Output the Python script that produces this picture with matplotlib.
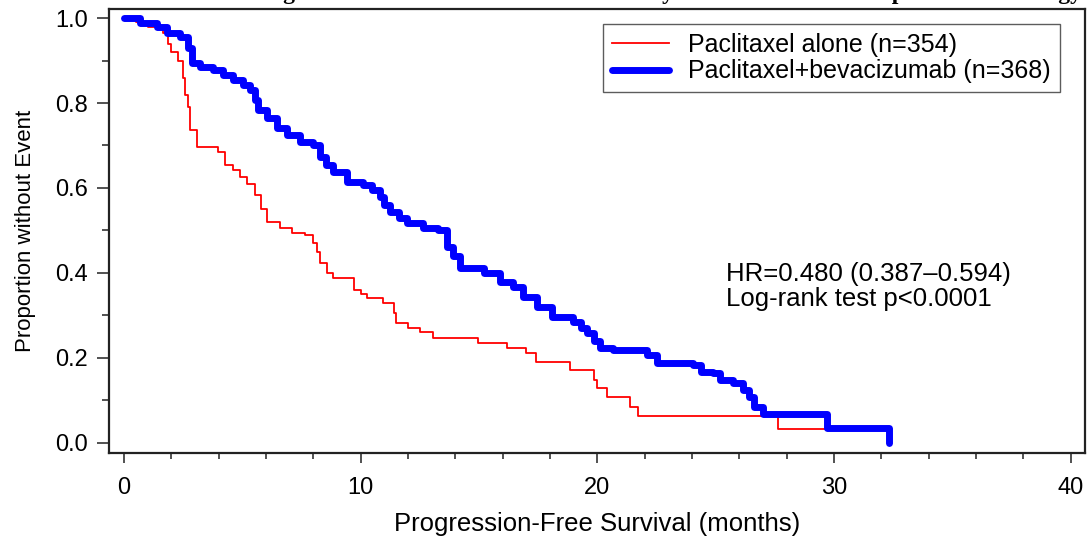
import numpy as np
import matplotlib
matplotlib.use("Agg")
import matplotlib.pyplot as plt
from matplotlib.ticker import MultipleLocator

plt.rcParams['font.family'] = ['Liberation Sans', 'DejaVu Sans']

# Kaplan-Meier steps (time in months, proportion after the step)
t_alone = [0, 0.5, 1.0, 1.65, 1.86, 2.0, 2.28, 2.5, 2.6, 2.7, 2.79, 3.08, 3.97, 4.27,
           4.6, 4.9, 5.2, 5.54, 5.8, 6.05, 6.6, 7.1, 7.65, 8.0, 8.15, 8.29, 8.6, 8.84,
           9.7, 10.0, 10.27, 10.95, 11.4, 11.5, 12.0, 12.5, 13.07, 14.97, 16.2, 17.0,
           17.4, 18.86, 19.84, 20.0, 20.4, 21.4, 21.7, 27.65, 29.6]
s_alone = [1.0, 0.99, 0.98, 0.965, 0.94, 0.92, 0.90, 0.86, 0.82, 0.79, 0.736, 0.697,
           0.685, 0.654, 0.642, 0.625, 0.61, 0.584, 0.55, 0.52, 0.506, 0.494, 0.489,
           0.47, 0.45, 0.424, 0.40, 0.388, 0.36, 0.35, 0.341, 0.329, 0.306, 0.282,
           0.27, 0.261, 0.247, 0.235, 0.223, 0.212, 0.19, 0.172, 0.148, 0.129, 0.108,
           0.085, 0.064, 0.033, 0.033]

t_combo = [0, 0.68, 1.4, 1.8, 2.37, 2.7, 2.87, 3.2, 3.77, 4.19, 4.6, 5.03, 5.33, 5.54,
           5.67, 6.05, 6.47, 6.89, 7.44, 8.0, 8.29, 8.55, 8.84, 9.43, 10.1, 10.5, 10.8,
           11.0, 11.25, 11.6, 11.97, 12.64, 13.28, 13.66, 13.9, 14.2, 15.2, 15.9, 16.45,
           16.87, 17.46, 18.1, 18.99, 19.3, 19.58, 19.85, 20.1, 20.68, 22.1, 22.54,
           24.06, 24.36, 24.9, 25.2, 25.75, 26.17, 26.4, 26.6, 27.0, 29.7, 32.3]
s_combo = [1.0, 0.988, 0.98, 0.965, 0.955, 0.93, 0.894, 0.885, 0.878, 0.866, 0.854,
           0.842, 0.83, 0.807, 0.784, 0.765, 0.741, 0.725, 0.708, 0.701, 0.673, 0.655,
           0.638, 0.614, 0.607, 0.595, 0.579, 0.56, 0.544, 0.53, 0.518, 0.506, 0.501,
           0.461, 0.44, 0.412, 0.40, 0.379, 0.367, 0.344, 0.32, 0.296, 0.285, 0.27,
           0.259, 0.24, 0.224, 0.219, 0.207, 0.188, 0.184, 0.167, 0.165, 0.148, 0.141,
           0.125, 0.108, 0.085, 0.068, 0.035, 0.0]

label_alone = 'Paclitaxel alone (n=354)'
label_combo = 'Paclitaxel+bevacizumab (n=368)'
stats_text = 'HR=0.480 (0.387\u20130.594)\nLog-rank test p<0.0001'
title = ('Kaplan-Meier Estimation of Progression-Free Survival Phase III Study E2100 '
         'Based on Independent Radiology Review')

fig = plt.figure(figsize=(10.9, 5.38), dpi=100)
ax = fig.add_axes([0.1, 0.158, 0.8954, 0.825])

ax.step(t_alone, s_alone, where='post', color='#ff0000', lw=1.3, label=label_alone)
ax.step(t_combo, s_combo, where='post', color='#0000ff', lw=5,
        solid_joinstyle='round', solid_capstyle='round', label=label_combo)

ax.set_xlim(-0.63, 40.6)
ax.set_ylim(-0.024, 1.021)
ax.xaxis.set_major_locator(MultipleLocator(10))
ax.xaxis.set_minor_locator(MultipleLocator(2))
ax.yaxis.set_major_locator(MultipleLocator(0.2))
ax.yaxis.set_minor_locator(MultipleLocator(0.1))
ax.yaxis.set_major_formatter(matplotlib.ticker.FormatStrFormatter('%.1f'))
ax.tick_params(which='both', direction='out', width=1.2, color='#333333')
ax.tick_params(axis='y', which='major', length=9, pad=6, labelsize=17)
ax.tick_params(axis='y', which='minor', length=5)
ax.tick_params(axis='x', which='major', length=7, pad=10, labelsize=17)
ax.tick_params(axis='x', which='minor', length=4)
for sp in ax.spines.values():
    sp.set_linewidth(1.6)
    sp.set_color('#222222')

ax.set_xlabel('Progression-Free Survival (months)', fontsize=18.5, labelpad=10)
ax.set_ylabel('Proportion without Event', fontsize=16, labelpad=14)

leg = ax.legend(loc='upper right', bbox_to_anchor=(0.974, 0.966), borderaxespad=0,
                fontsize=18, frameon=True, fancybox=False, handlelength=2.3,
                handletextpad=0.75, borderpad=0.35, labelspacing=0.1)
leg.get_frame().set_edgecolor('#333333')
leg.get_frame().set_linewidth(1.0)

ax.text(25.45, 0.369, stats_text, fontsize=18.5, ha='left', va='center', linespacing=1.05)

fig.text(-0.04, 1.012, title, ha='left', va='center', fontsize=17, fontweight='bold',
         family='Liberation Serif')

fig.savefig('out.png', dpi=100)
